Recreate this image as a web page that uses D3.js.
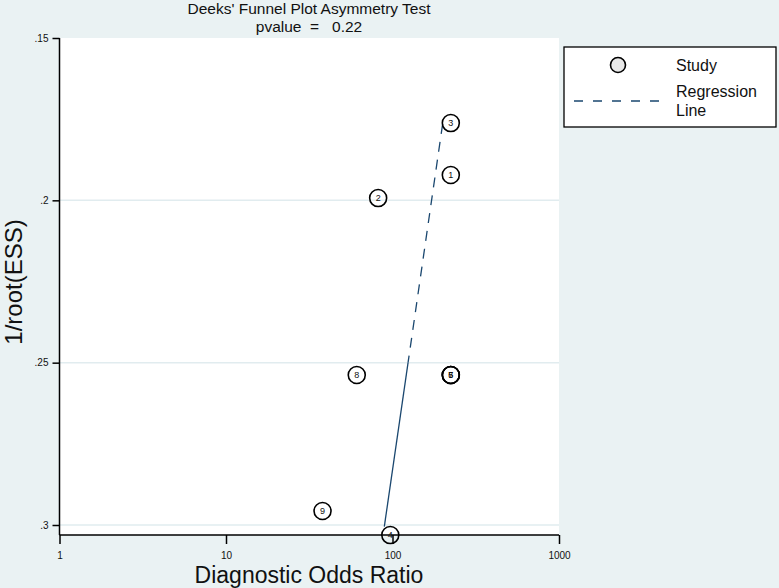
<!DOCTYPE html>
<html>
<head>
<meta charset="utf-8">
<script src="https://cdn.jsdelivr.net/npm/d3@7"></script>
<style>
  body { margin: 0; background: #eaf2f3; }
  text { font-family: "Liberation Sans", Arial, sans-serif; fill: #111; }
</style>
</head>
<body>
<script>
const width = 779
const height = 588

// study data
const studyIds = [1, 2, 3, 4, 5, 6, 7, 8, 9]
const dor = [224, 82, 224, 97, 224, 224, 224, 61, 38]
const invRootEss = [0.1922, 0.1993, 0.1762, 0.3031, 0.2538, 0.2538, 0.2538, 0.2538, 0.2957]

// regression line ends (DOR, 1/root(ESS)) and where the dashes stop
const regDor = [200, 89.3]
const regEss = [0.1765, 0.3005]
const regSolidFrom = 0.25

const xTicks = [1, 10, 100, 1000]
const yTicks = [0.15, 0.2, 0.25, 0.3]
const yTickLabels = ['.15', '.2', '.25', '.3']
const pvalue = '0.22'

const plot = { left: 59.5, right: 559, top: 38, bottom: 535 }

let svg = d3.select('body').append('svg')
    .attr('width', width)
    .attr('height', height)

svg.append('rect')
    .attr('width', width).attr('height', height)
    .attr('fill', '#eaf2f3')

let x = d3.scaleLog().domain([1, 1000]).range([plot.left, plot.right])
let y = d3.scaleLinear().domain([0.15, 0.3]).range([plot.top, 525])

// plot region
svg.append('rect')
    .attr('x', plot.left).attr('y', plot.top)
    .attr('width', plot.right - plot.left).attr('height', plot.bottom - plot.top)
    .attr('fill', '#ffffff')

// gridlines
svg.append('g').selectAll('line')
    .data(yTicks.slice(1))
    .join('line')
    .attr('x1', plot.left).attr('x2', plot.right)
    .attr('y1', d => y(d)).attr('y2', d => y(d))
    .attr('stroke', '#e1ecef')
    .attr('stroke-width', 1.5)

// y axis
let yAxis = d3.axisLeft(y).tickValues(yTicks)
    .tickFormat((d, i) => yTickLabels[i])
    .tickSize(7).tickPadding(4)
let gy = svg.append('g')
    .attr('transform', `translate(${plot.left},0)`)
    .call(yAxis)
gy.select('.domain').attr('d', `M0,${plot.top}V${plot.bottom}`).attr('stroke', '#000').attr('stroke-width', 1.5)
gy.selectAll('.tick line').attr('stroke', '#000').attr('stroke-width', 1.5)
gy.selectAll('.tick text').attr('font-size', 10).attr('font-family', 'Liberation Sans, Arial, sans-serif').attr('fill', '#111')

// x axis
let xAxis = d3.axisBottom(x).tickValues(xTicks)
    .tickFormat(d3.format('d'))
    .tickSize(9).tickPadding(8)
let gx = svg.append('g')
    .attr('transform', `translate(0,${plot.bottom})`)
    .call(xAxis)
gx.select('.domain').attr('d', `M${plot.left},0H${plot.right}`).attr('stroke', '#000').attr('stroke-width', 1.5)
gx.selectAll('.tick line').attr('stroke', '#000').attr('stroke-width', 1.5)
gx.selectAll('.tick text').attr('font-size', 10).attr('font-family', 'Liberation Sans, Arial, sans-serif').attr('fill', '#111')

// regression line: dashed upper part, solid lower part
let lx = d3.scaleLinear().domain(regEss).range(regDor.map(d => Math.log10(d)))
let breakDor = Math.pow(10, lx(regSolidFrom))
svg.append('line')
    .attr('x1', x(regDor[0])).attr('y1', y(regEss[0]))
    .attr('x2', x(breakDor)).attr('y2', y(regSolidFrom))
    .attr('stroke', '#1a476f').attr('stroke-width', 1.3)
    .attr('stroke-dasharray', '10,8')
svg.append('line')
    .attr('x1', x(breakDor)).attr('y1', y(regSolidFrom))
    .attr('x2', x(regDor[1])).attr('y2', y(regEss[1]))
    .attr('stroke', '#1a476f').attr('stroke-width', 1.3)

// studies
let pts = svg.append('g').selectAll('g')
    .data(studyIds.map((id, i) => ({ id: id, dor: dor[i], ess: invRootEss[i] })))
    .join('g')
    .attr('transform', d => `translate(${x(d.dor)},${y(d.ess)})`)
pts.append('circle')
    .attr('r', 8.5)
    .attr('fill', 'none')
    .attr('stroke', '#000')
    .attr('stroke-width', 1.6)
pts.append('text')
    .attr('text-anchor', 'middle')
    .attr('dy', '0.36em')
    .attr('font-size', 9)
    .text(d => d.id)

// titles
svg.append('text').attr('x', 309).attr('y', 14)
    .attr('text-anchor', 'middle').attr('font-size', 15.5)
    .text("Deeks' Funnel Plot Asymmetry Test")
svg.append('text').attr('x', 309).attr('y', 31.5)
    .attr('text-anchor', 'middle').attr('font-size', 15.5)
    .attr('xml:space', 'preserve').style('white-space', 'pre')
    .text('pvalue  =   ' + pvalue)

svg.append('text').attr('x', 309).attr('y', 583)
    .attr('text-anchor', 'middle').attr('font-size', 23)
    .text('Diagnostic Odds Ratio')
svg.append('text')
    .attr('transform', 'translate(22,282) rotate(-90)')
    .attr('text-anchor', 'middle').attr('font-size', 24)
    .text('1/root(ESS)')

// legend
let lg = svg.append('g')
lg.append('rect')
    .attr('x', 564).attr('y', 47).attr('width', 212).attr('height', 80)
    .attr('fill', '#fff').attr('stroke', '#000').attr('stroke-width', 1.3)
lg.append('circle')
    .attr('cx', 618).attr('cy', 65).attr('r', 7.5)
    .attr('fill', '#e8e8e8').attr('stroke', '#000').attr('stroke-width', 1.6)
lg.append('text').attr('x', 676).attr('y', 71).attr('font-size', 16).text('Study')
lg.append('line')
    .attr('x1', 574).attr('x2', 660).attr('y1', 101).attr('y2', 101)
    .attr('stroke', '#1a476f').attr('stroke-width', 1.3)
    .attr('stroke-dasharray', '9,10')
lg.append('text').attr('x', 676).attr('y', 97).attr('font-size', 16).text('Regression')
lg.append('text').attr('x', 676).attr('y', 116).attr('font-size', 16).text('Line')
</script>
</body>
</html>
